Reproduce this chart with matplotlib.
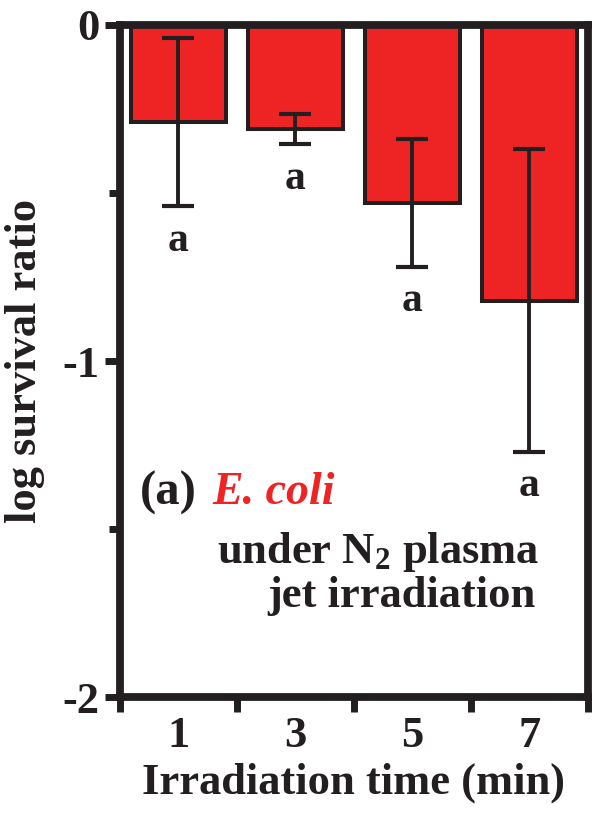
import numpy as np
import matplotlib
matplotlib.use("Agg")
import matplotlib.pyplot as plt

plt.rcParams['font.family'] = ['Liberation Serif', 'DejaVu Serif']
plt.rcParams['font.weight'] = 'bold'
plt.rcParams['mathtext.fontset'] = 'custom'
plt.rcParams['mathtext.rm'] = 'Liberation Serif:bold'
plt.rcParams['mathtext.it'] = 'Liberation Serif:italic:bold'
plt.rcParams['mathtext.bf'] = 'Liberation Serif:bold'

times = ['1', '3', '5', '7']
log_survival = [-0.29, -0.31, -0.53, -0.82]
errors = [0.25, 0.045, 0.19, 0.45]
letters = ['a', 'a', 'a', 'a']

dark = '#231F20'
red = '#EE2424'

fig = plt.figure(figsize=(5.92, 8.14), dpi=100)
ax = fig.add_axes([0.2027, 0.1437, 0.7905, 0.8256])

x = np.arange(len(times))
ax.bar(x, log_survival, width=0.81, color=red, edgecolor=dark, linewidth=2.9, zorder=2)
ax.errorbar(x, log_survival, yerr=errors, fmt='none', ecolor=dark, elinewidth=2.8,
            capsize=11.5, capthick=3.0, zorder=3)

for xi, v, e, lab in zip(x, log_survival, errors, letters):
    ax.annotate(lab, (xi, v - e), xytext=(0, -32), textcoords='offset points',
                ha='center', va='baseline', fontsize=30, color=dark, fontweight='bold')

ax.set_xlim(-0.5, 3.5)
ax.set_ylim(-2, 0)

for s in ax.spines.values():
    s.set_linewidth(5.6)
    s.set_color(dark)

ax.set_xticks(np.arange(-0.5, 3.6, 1.0))
ax.set_xticklabels([])
ax.set_xticks(x, minor=True)
ax.set_xticklabels(times, minor=True)
ax.tick_params(axis='x', which='major', direction='out', length=11, width=5, color=dark)
ax.tick_params(axis='x', which='minor', length=0, pad=14, labelsize=32, labelcolor=dark)

ax.set_yticks([0, -1, -2])
ax.set_yticklabels(['0', '-1', '-2'])
ax.set_yticks([-0.5, -1.5], minor=True)
ax.tick_params(axis='y', which='major', direction='out', length=11, width=5, color=dark,
               pad=4, labelsize=32, labelcolor=dark)
ax.tick_params(axis='y', which='minor', direction='out', length=8, width=5, color=dark)

ax.set_ylabel('log survival ratio', fontsize=32, fontweight='bold', color=dark, labelpad=12)
ax.set_xlabel('Irradiation time (min)', fontsize=32, fontweight='bold', color=dark, labelpad=4)

ax.text(0.043, 0.304, '(a)', transform=ax.transAxes, fontsize=35, fontweight='bold',
        color=dark, ha='left', va='center')
ax.text(0.197, 0.304, 'E. coli', transform=ax.transAxes, fontsize=33, fontweight='bold',
        fontstyle='italic', color=red, ha='left', va='center')
ax.text(0.897, 0.199, 'under N$_2$ plasma', transform=ax.transAxes, fontsize=32,
        fontweight='bold', color=dark, ha='right', va='baseline')
ax.text(0.887, 0.134, 'jet irradiation', transform=ax.transAxes, fontsize=32,
        fontweight='bold', color=dark, ha='right', va='baseline')

fig.savefig('out.png', dpi=100)
